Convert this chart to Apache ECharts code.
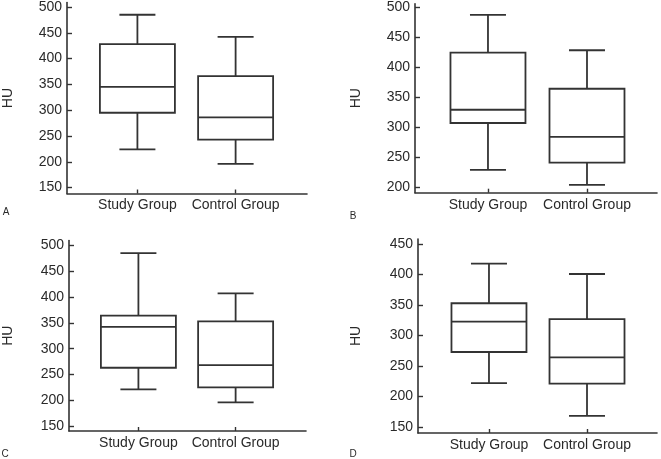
<!DOCTYPE html>
<html>
<head>
<meta charset="utf-8">
<script src="https://cdn.jsdelivr.net/npm/echarts@6/dist/echarts.min.js"></script>
<style>
html,body{margin:0;padding:0;background:#fff;}
#chart{width:661px;height:459px;}
</style>
</head>
<body>
<div id="chart"></div>
<script>
// Categories
const categories = ['Study Group', 'Control Group'];
// Box stats: [lower whisker, Q1, median, Q3, upper whisker]
const studyA = [224, 295, 345, 428, 485];
const controlA = [196, 243, 286, 366, 442];
const studyB = [229, 307, 329, 424, 487];
const controlB = [204, 241, 284, 364, 428];
const studyC = [221, 263, 342, 364, 485];
const controlC = [196, 225, 268, 353, 407];
const studyD = [222, 273, 323, 353, 418];
const controlD = [168, 221, 264, 327, 401];
// Tick labels
const ticksA = [150, 200, 250, 300, 350, 400, 450, 500];
const ticksB = [200, 250, 300, 350, 400, 450, 500];
const ticksC = [150, 200, 250, 300, 350, 400, 450, 500];
const ticksD = [150, 200, 250, 300, 350, 400, 450];
const panelLetters = ['A', 'B', 'C', 'D'];
const yTitle = 'HU';

const panels = [
  { study: studyA, control: controlA, ticks: ticksA },
  { study: studyB, control: controlB, ticks: ticksB },
  { study: studyC, control: controlC, ticks: ticksC },
  { study: studyD, control: controlD, ticks: ticksD }
];

// layout (styling only)
const layout = [
  { grid: { left: 65, top: 1.5, width: 242, height: 192 }, x: [-0.717, 1.727], y: [138.5, 508.5], gap: 52 },
  { grid: { left: 415, top: 2.5, width: 242, height: 190.2 }, x: [-0.737, 1.707], y: [191, 505.5], gap: 52 },
  { grid: { left: 67, top: 240.5, width: 239, height: 190.5 }, x: [-0.714, 1.724], y: [140.5, 509.5], gap: 54 },
  { grid: { left: 418, top: 239, width: 239, height: 194 }, x: [-0.724, 1.714], y: [140, 458.5], gap: 55 }
];
const letterPos = [[6, 212], [353, 216], [5, 454], [353, 454]];

const LINE = '#333';
const TEXT = '#2a2a2a';
const FONT = 'Arial, "Liberation Sans", sans-serif';

const grids = [], xAxes = [], yAxes = [], series = [];
panels.forEach((p, i) => {
  const L = layout[i];
  grids.push(L.grid);
  xAxes.push({
    type: 'value', gridIndex: i, min: L.x[0], max: L.x[1],
    axisLine: { show: true, onZero: false, lineStyle: { color: LINE, width: 1.6 } },
    axisTick: { show: true, inside: true, length: 4, customValues: [0, 1], lineStyle: { color: LINE, width: 1.4 } },
    axisLabel: { customValues: [0, 1], formatter: v => categories[Math.round(v)], color: TEXT, fontSize: 14, fontFamily: FONT, margin: 5 },
    splitLine: { show: false }
  });
  yAxes.push({
    type: 'value', gridIndex: i, min: L.y[0], max: L.y[1],
    name: yTitle, nameLocation: 'middle', nameGap: L.gap, nameRotate: 90,
    nameTextStyle: { color: TEXT, fontSize: 14, fontFamily: FONT },
    axisLine: { show: true, onZero: false, lineStyle: { color: LINE, width: 1.6 } },
    axisTick: { show: true, inside: true, length: 5, customValues: p.ticks, lineStyle: { color: LINE, width: 1.4 } },
    axisLabel: { customValues: p.ticks, color: TEXT, fontSize: 14, fontFamily: FONT, margin: 5 },
    splitLine: { show: false }
  });
  series.push({
    type: 'custom', xAxisIndex: i, yAxisIndex: i,
    data: [[0].concat(p.study), [1].concat(p.control)],
    encode: { x: 0, y: [1, 2, 3, 4, 5] },
    renderItem: function (params, api) {
      const x = api.value(0);
      const lo = api.coord([x, api.value(1)]);
      const q1 = api.coord([x, api.value(2)]);
      const md = api.coord([x, api.value(3)]);
      const q3 = api.coord([x, api.value(4)]);
      const hi = api.coord([x, api.value(5)]);
      const hw = 37.5, cw = 18;
      const cx = lo[0];
      const st = { stroke: LINE, lineWidth: 1.8, fill: null };
      return {
        type: 'group',
        children: [
          { type: 'rect', shape: { x: cx - hw, y: q3[1], width: hw * 2, height: q1[1] - q3[1] }, style: { stroke: LINE, lineWidth: 1.8, fill: '#fff' } },
          { type: 'line', shape: { x1: cx - hw, y1: md[1], x2: cx + hw, y2: md[1] }, style: st },
          { type: 'line', shape: { x1: cx, y1: q3[1], x2: cx, y2: hi[1] }, style: st },
          { type: 'line', shape: { x1: cx, y1: q1[1], x2: cx, y2: lo[1] }, style: st },
          { type: 'line', shape: { x1: cx - cw, y1: hi[1], x2: cx + cw, y2: hi[1] }, style: st },
          { type: 'line', shape: { x1: cx - cw, y1: lo[1], x2: cx + cw, y2: lo[1] }, style: st }
        ]
      };
    }
  });
});

const graphics = panelLetters.map((t, i) => ({
  type: 'text', x: letterPos[i][0], y: letterPos[i][1],
  style: { text: t, fill: TEXT, font: '10px ' + FONT, textAlign: 'center', textVerticalAlign: 'middle', verticalAlign: 'middle' }
}));

const chart = echarts.init(document.getElementById('chart'), null, { renderer: 'canvas' });
chart.setOption({
  animation: false,
  backgroundColor: '#fff',
  grid: grids,
  xAxis: xAxes,
  yAxis: yAxes,
  series: series,
  graphic: graphics
});
</script>
</body>
</html>
